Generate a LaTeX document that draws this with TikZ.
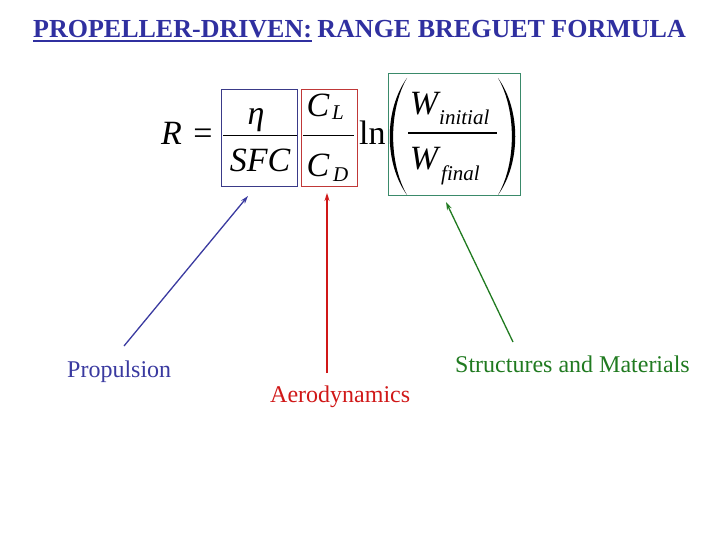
\documentclass[tikz,border=0pt]{standalone}
\usepackage{fontspec}
\setmainfont{Liberation Serif}
\usetikzlibrary{arrows.meta}
\definecolor{titleblue}{HTML}{3030A0}
\definecolor{pblue}{HTML}{3A3AA0}
\definecolor{boxblue}{HTML}{3A3A88}
\definecolor{ared}{HTML}{D01818}
\definecolor{boxred}{HTML}{C03838}
\definecolor{sgreen}{HTML}{207A20}
\definecolor{boxgreen}{HTML}{3A8A6A}
\tikzset{
  big/.style={inner sep=0pt, font=\fontsize{34}{34}\selectfont},
  sub/.style={inner sep=0pt, font=\fontsize{21}{21}\selectfont\itshape},
  lbl/.style={inner sep=0pt, font=\fontsize{24}{24}\selectfont},
  ttl/.style={inner sep=0pt, text=titleblue, font=\fontsize{26}{26}\selectfont\bfseries},
  fbox/.style={draw, line width=1pt, inner sep=0pt},
  bar/.style={line width=1.5pt},
  pointer/.style={line width=1.3pt, -{Stealth[length=8pt,width=5pt]}},
}
\begin{document}
\begin{tikzpicture}[x=1pt,y=-1pt]
\useasboundingbox (0,0) rectangle (720,540);
% title
\node[ttl, anchor=base west] (t1) at (33,38) {PROPELLER-DRIVEN:};
\node[ttl, anchor=base east] (t2) at (686,38) {RANGE BREGUET FORMULA};
\draw[titleblue, line width=1.2pt] ([yshift=-3pt]t1.base west) -- ([yshift=-3pt]t1.base east);
% boxes
\node[fbox, draw=boxblue, minimum width=76pt, minimum height=97pt] (bbox) at (259,138.5) {};
\node[fbox, draw=boxred, minimum width=56pt, minimum height=97pt] (rbox) at (329.5,138.5) {};
\node[fbox, draw=boxgreen, minimum width=132pt, minimum height=122pt] (gbox) at (454,135) {};
% formula
\node[big, anchor=base west] (R) at (161,145) {\itshape R};
\node[big, anchor=base] (eq) at (203,145) {=};
\node[big, anchor=base] (eta) at (256,125) {\itshape η};
\draw[bar] (223,135.5) -- (297,135.5);
\node[big, anchor=base] (sfc) at (260,172) {\itshape SFC};
\node[big, anchor=base] (cl) at (318,117) {\itshape C};
\node[sub, anchor=base west] (L) at (332,120) {L};
\draw[bar] (303,135.5) -- (354,135.5);
\node[big, anchor=base] (cd) at (318,177) {\itshape C};
\node[sub, anchor=base west] (D) at (333,182) {D};
\node[big, anchor=base west] (ln) at (359,145) {ln};
\fill (407,78) .. controls (384,110) and (384,163) .. (407,195)
  .. controls (388.5,163) and (388.5,110) .. (407,78) -- cycle;
\fill (498,78) .. controls (521,110) and (521,163) .. (498,195)
  .. controls (516.5,163) and (516.5,110) .. (498,78) -- cycle;
\node[big, anchor=base] (wi) at (424,115) {\itshape W};
\node[sub, anchor=base west] (ini) at (439,125) {initial};
\draw[bar] (408,133) -- (497,133);
\node[big, anchor=base] (wf) at (424,170) {\itshape W};
\node[sub, anchor=base west] (fin) at (441,181) {final};
% labels
\node[lbl, anchor=base west, text=pblue] (prop) at (67,377) {Propulsion};
\node[lbl, anchor=base west, text=ared] (aero) at (270,402) {Aerodynamics};
\node[lbl, anchor=base west, text=sgreen] (str) at (455,372) {Structures and Materials};
% arrows
\coordinate (ps) at (124,346);
\coordinate (pe) at (248,196);
\coordinate (as) at (327,373);
\coordinate (ae) at (327,193);
\coordinate (ss) at (513,342);
\coordinate (se) at (446,202);
\draw[pointer, pblue] (ps) -- (pe);
\draw[pointer, ared] (as) -- (ae);
\draw[pointer, sgreen] (ss) -- (se);
\end{tikzpicture}
\end{document}
